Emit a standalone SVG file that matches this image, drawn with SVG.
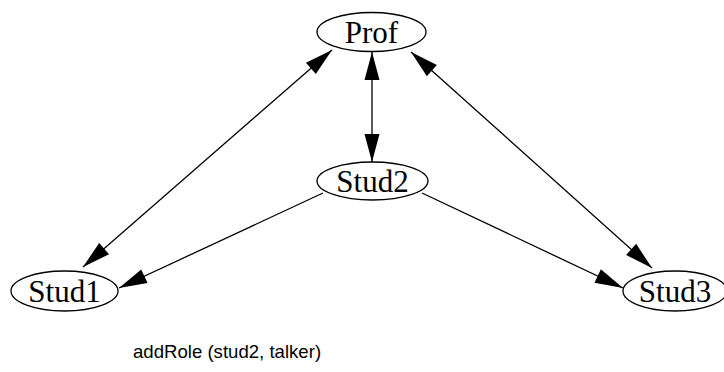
<svg xmlns="http://www.w3.org/2000/svg" width="724" height="372" viewBox="0 0 724 372">
  <style>
    .node ellipse { fill: #ffffff; stroke: #000000; stroke-width: 1.3; }
    .node text { font-family: "Liberation Serif", "Times New Roman", serif; font-size: 31px; fill: #000000; text-anchor: middle; }
    .edge { stroke: #000000; stroke-width: 1.3; fill: none; }
    .uni { marker-end: url(#head); }
    .bi { marker-start: url(#head); marker-end: url(#head); }
    .caption { font-family: "Liberation Sans", Arial, sans-serif; font-size: 18.6px; fill: #000000; }
  </style>
  <defs>
    <!-- filled triangular arrowhead, tip at the line end -->
    <marker id="head" markerUnits="userSpaceOnUse" markerWidth="28" markerHeight="15" refX="28" refY="7.5" orient="auto-start-reverse" overflow="visible">
      <path d="M0,0 L28,7.5 L0,15 Z" fill="#000000"/>
    </marker>
  </defs>
  <rect width="724" height="372" fill="#ffffff"/>

  <g id="edges">
    <line class="edge bi" x1="372" y1="52" x2="372" y2="162"/>
    <line class="edge bi" x1="332" y1="50" x2="83" y2="267"/>
    <line class="edge bi" x1="411" y1="52" x2="652" y2="268"/>
    <line class="edge uni" x1="323" y1="193" x2="119" y2="288"/>
    <line class="edge uni" x1="422" y1="193" x2="623" y2="288"/>
  </g>

  <g id="prof" class="node">
    <ellipse cx="371.5" cy="32" rx="54.5" ry="19.5"/>
    <text x="371.5" y="43">Prof</text>
  </g>
  <g id="stud2" class="node">
    <ellipse cx="372.5" cy="181" rx="55.5" ry="19"/>
    <text x="372.5" y="192">Stud2</text>
  </g>
  <g id="stud1" class="node">
    <ellipse cx="64.5" cy="291" rx="53.5" ry="20"/>
    <text x="64.5" y="302">Stud1</text>
  </g>
  <g id="stud3" class="node">
    <ellipse cx="675" cy="291" rx="52" ry="20"/>
    <text x="675" y="302">Stud3</text>
  </g>

  <text class="caption" x="133" y="358">addRole (stud2, talker)</text>
</svg>
